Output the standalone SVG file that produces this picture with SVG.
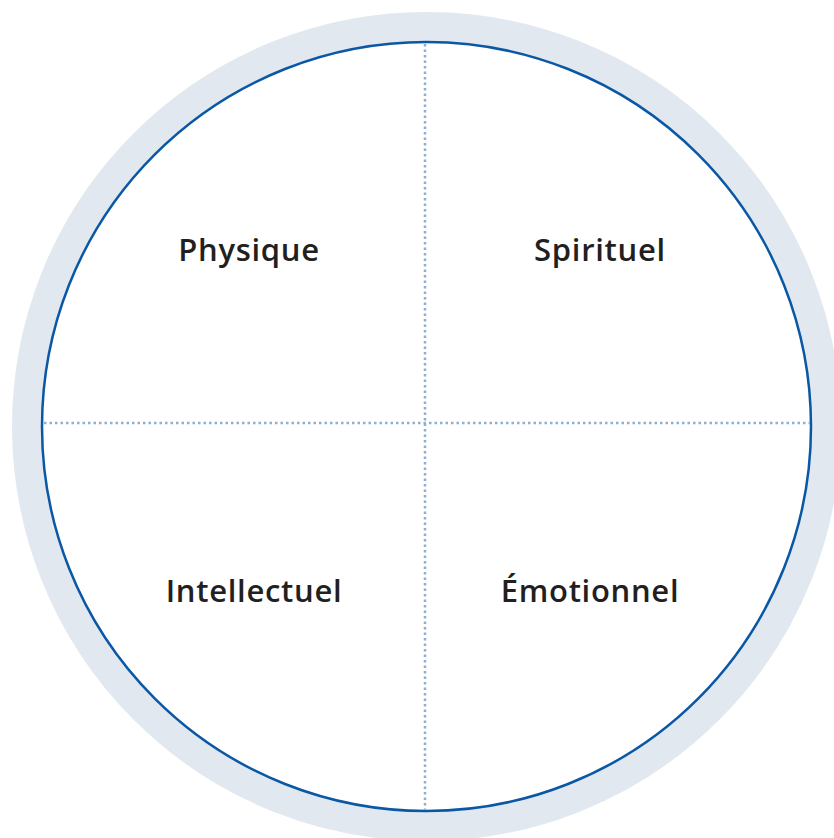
<svg xmlns="http://www.w3.org/2000/svg" width="834" height="838" viewBox="0 0 834 838">
<style>
.lbl{font-family:"Open Sans","Noto Sans",sans-serif;font-weight:600;font-size:31px;letter-spacing:0.7px;fill:#231f20;text-anchor:middle}
.div{stroke:#8cb0d0;stroke-width:2.5;stroke-dasharray:2.5 3;fill:none}
</style>
<rect width="834" height="838" fill="#fff"/>
<g id="ring">
<circle cx="426.5" cy="426.5" r="399.5" fill="none" stroke="#e1e8ef" stroke-width="30"/>
<circle cx="426.5" cy="426.5" r="384.5" fill="#fff" stroke="#0a58a5" stroke-width="2.5"/>
</g>
<g id="connectors">
<line class="div" x1="425" y1="44" x2="425" y2="810"/>
<line class="div" x1="44" y1="423" x2="810" y2="423"/>
</g>
<g id="physique"><text class="lbl" x="249" y="261">Physique</text></g>
<g id="spirituel"><text class="lbl" x="600" y="261">Spirituel</text></g>
<g id="intellectuel"><text class="lbl" x="254" y="602">Intellectuel</text></g>
<g id="emotionnel"><text class="lbl" x="590" y="602">Émotionnel</text></g>
</svg>
